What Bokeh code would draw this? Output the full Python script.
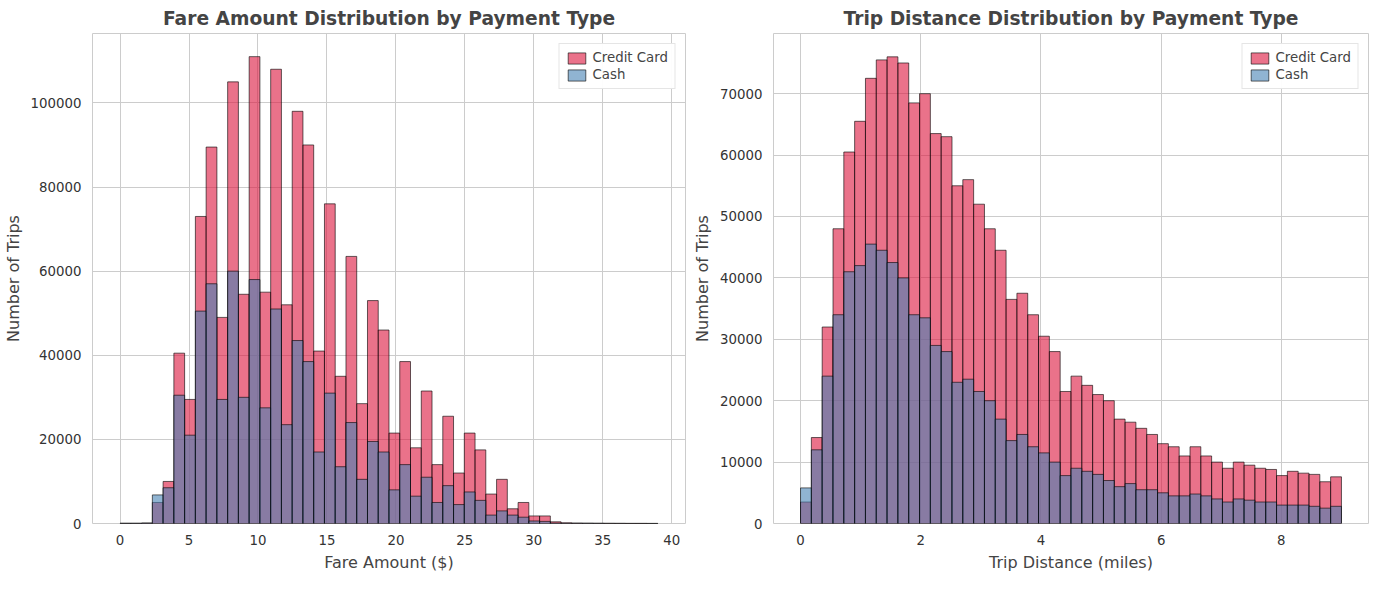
import numpy as np
from bokeh.layouts import row
from bokeh.models import Legend, LegendItem
from bokeh.plotting import figure
from bokeh.embed import file_html
from bokeh.resources import INLINE

# fare histogram: 50 bins over [0, 39]
fare_range = (0, 39)
fare_credit = [50, 50, 100, 5000, 10000, 40500, 29500, 73000, 89500, 49000,
               105000, 54500, 111000, 55000, 108000, 52000, 98000, 90000, 41000, 76000,
               35000, 63500, 28500, 53000, 46000, 21500, 38500, 18000, 31500, 14000,
               25500, 12000, 21500, 17500, 7000, 10500, 3500, 5000, 1800, 1800,
               400, 150, 100, 80, 60, 50, 40, 30, 30, 20]
fare_cash = [50, 50, 100, 6800, 8500, 30500, 21000, 50500, 57000, 29500,
             60000, 30000, 58000, 27500, 51000, 23500, 43500, 38500, 17000, 31000,
             13500, 24000, 10500, 19500, 17000, 8000, 14000, 6500, 11000, 5000,
             9000, 4500, 7500, 5500, 2000, 3000, 2000, 1500, 600, 500,
             100, 60, 50, 40, 30, 20, 20, 10, 10, 10]

# trip distance histogram: 50 bins over [0, 9]
dist_range = (0, 9)
dist_credit = [3500, 14000, 32000, 48000, 60500, 65500, 72500, 75500, 76000, 75000,
               68500, 70000, 63500, 63000, 55000, 56000, 52000, 48000, 44500, 36500,
               37500, 34000, 30500, 28000, 21500, 24000, 22500, 21000, 20000, 17000,
               16500, 15500, 14500, 13000, 12500, 11000, 12500, 11000, 10000, 9000,
               10000, 9500, 9000, 8800, 7800, 8500, 8200, 8000, 6800, 7600]
dist_cash = [5800, 12000, 24000, 34000, 41000, 42000, 45500, 44500, 42500, 40000,
             34000, 33500, 29000, 28000, 23000, 23500, 21500, 20000, 17000, 13500,
             14500, 12500, 11500, 10000, 7800, 9000, 8500, 8000, 7000, 6000,
             6500, 5500, 5500, 5000, 4500, 4500, 4800, 4500, 4000, 3500,
             4000, 3800, 3500, 3500, 3000, 3000, 3000, 2800, 2500, 2800]

CREDIT = "#dc143c"
CASH = "#4682b4"
FONT = "DejaVu Sans"


def hist_fig(title, xlabel, rng, credit, cash, width, x_ticks, y_end):
    edges = np.linspace(rng[0], rng[1], len(credit) + 1)
    p = figure(width=width, height=574, title=title, output_backend="svg",
               toolbar_location=None, background_fill_color="white",
               y_range=(0, y_end), min_border_left=70)
    r1 = p.quad(left=edges[:-1], right=edges[1:], bottom=0, top=credit,
                fill_color=CREDIT, fill_alpha=0.6, line_color="black", line_alpha=0.6)
    r2 = p.quad(left=edges[:-1], right=edges[1:], bottom=0, top=cash,
                fill_color=CASH, fill_alpha=0.6, line_color="black", line_alpha=0.6)
    p.title.text_font = FONT
    p.title.text_font_size = "14pt"
    p.title.text_font_style = "bold"
    p.title.align = "center"
    p.xaxis.axis_label = xlabel
    p.yaxis.axis_label = "Number of Trips"
    for ax in (p.xaxis, p.yaxis):
        ax.axis_label_text_font = FONT
        ax.axis_label_text_font_size = "12pt"
        ax.axis_label_text_font_style = "normal"
        ax.major_label_text_font = FONT
        ax.major_label_text_font_size = "10pt"
        ax.major_label_text_color = "#333333"
        ax.axis_line_color = None
        ax.major_tick_line_color = None
        ax.minor_tick_line_color = None
    p.xaxis.ticker = x_ticks
    p.yaxis.formatter.use_scientific = False
    p.xgrid.grid_line_color = "#cccccc"
    p.ygrid.grid_line_color = "#cccccc"
    p.xgrid.ticker = x_ticks
    p.outline_line_color = "#cccccc"
    legend = Legend(items=[LegendItem(label="Credit Card", renderers=[r1]),
                           LegendItem(label="Cash", renderers=[r2])],
                    location="top_right", label_text_font=FONT,
                    label_text_font_size="10pt", border_line_color="#cccccc",
                    glyph_height=14, glyph_width=22, spacing=2, padding=6)
    p.add_layout(legend)
    return p


p1 = hist_fig("Fare Amount Distribution by Payment Type", "Fare Amount ($)",
              fare_range, fare_credit, fare_cash, 690,
              [0, 5, 10, 15, 20, 25, 30, 35, 40], 116500)
p1.x_range.start, p1.x_range.end = -2, 41
p2 = hist_fig("Trip Distance Distribution by Payment Type", "Trip Distance (miles)",
              dist_range, dist_credit, dist_cash, 683,
              [0, 2, 4, 6, 8], 79800)
p2.x_range.start, p2.x_range.end = -0.45, 9.45

p = row(p1, p2)
open("out.html", "w").write(file_html(p, INLINE))
